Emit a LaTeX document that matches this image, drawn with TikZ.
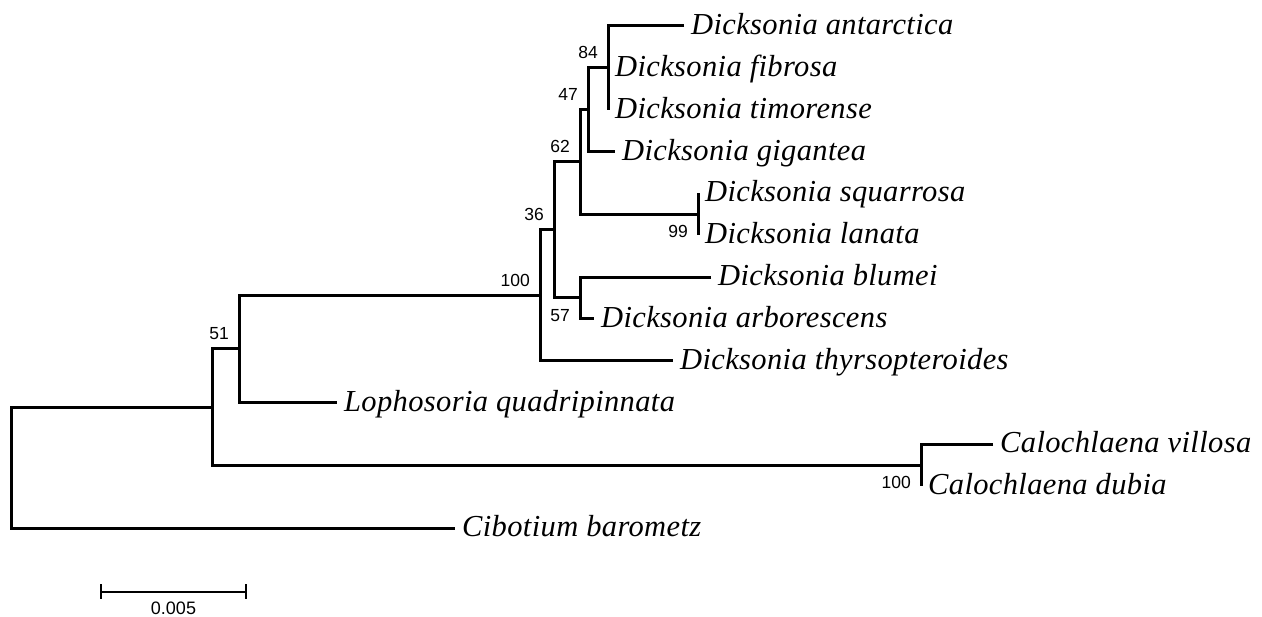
\documentclass[tikz,border=0pt]{standalone}
\usepackage{fontspec}
\usetikzlibrary{calc}
\setmainfont{Liberation Serif}
\newfontfamily\taxfont[LetterSpace=1.2]{Liberation Serif}
\newfontfamily\bootfont{Liberation Sans}
\begin{document}
\begin{tikzpicture}[x=1pt,y=-1pt,
  branch/.style={line width=3pt,line join=miter,line cap=butt},
  taxon/.style={anchor=base west,inner sep=0pt,xshift=7pt,yshift=-8.5pt,
    font=\taxfont\itshape\fontsize{30.5}{32}\selectfont},
  bsabove/.style={anchor=base east,inner sep=0pt,xshift=-10pt,yshift=9pt,
    font=\bootfont\fontsize{17.5}{20}\selectfont},
  bsbelow/.style={anchor=north east,inner sep=0pt,xshift=-10pt,yshift=-11pt,
    font=\bootfont\fontsize{17.5}{20}\selectfont}]
\useasboundingbox (0,0) rectangle (1262,617);

% internal nodes (x = depth, y = join height)
\coordinate (n84)  at (608,67.85);
\coordinate (n47)  at (588,109.7);
\coordinate (n99)  at (698,214.3);
\coordinate (n62)  at (580,162);
\coordinate (n57)  at (580,298);
\coordinate (n36)  at (554,230);
\coordinate (n100) at (540,295.4);
\coordinate (n51)  at (239,349);
\coordinate (nA)   at (212,407.2);
\coordinate (nCal) at (921,465.4);
\coordinate (root) at (11,467.7);

% leaf tips
\coordinate (tAnt) at (684,26);
\coordinate (tFib) at (608,67.85);
\coordinate (tTim) at (608,109.7);
\coordinate (tGig) at (615,151.55);
\coordinate (tSqu) at (698,193.4);
\coordinate (tLan) at (698,235.25);
\coordinate (tBlu) at (711,277.1);
\coordinate (tArb) at (594,318.95);
\coordinate (tThy) at (673,360.8);
\coordinate (tLop) at (337,402.65);
\coordinate (tVil) at (993,444.5);
\coordinate (tDub) at (921,486.35);
\coordinate (tCib) at (455,528.2);

% branches
\draw[branch] (tAnt) -| (n84) |- (tTim);
\draw[branch] (n84) -- (tFib);
\draw[branch] (n84) -| (n47) |- (tGig);
\draw[branch] (tSqu) -- (tLan);
\draw[branch] (n47) -| (n62) |- (n99);
\draw[branch] (tBlu) -| (n57) |- (tArb);
\draw[branch] (n62) -| (n36) |- (n57);
\draw[branch] (n36) -| (n100) |- (tThy);
\draw[branch] (n100) -| (n51) |- (tLop);
\draw[branch] (n51) -| (nA) |- (nCal);
\draw[branch] (tVil) -| (nCal) -- (tDub);
\draw[branch] (nA) -| (root) |- (tCib);

% taxon names
\node[taxon] (lAnt) at (tAnt) {Dicksonia antarctica};
\node[taxon] (lFib) at (tFib) {Dicksonia fibrosa};
\node[taxon] (lTim) at (tTim) {Dicksonia timorense};
\node[taxon] (lGig) at (tGig) {Dicksonia gigantea};
\node[taxon] (lSqu) at (tSqu) {Dicksonia squarrosa};
\node[taxon] (lLan) at (tLan) {Dicksonia lanata};
\node[taxon] (lBlu) at (tBlu) {Dicksonia blumei};
\node[taxon] (lArb) at (tArb) {Dicksonia arborescens};
\node[taxon] (lThy) at (tThy) {Dicksonia thyrsopteroides};
\node[taxon] (lLop) at (tLop) {Lophosoria quadripinnata};
\node[taxon] (lVil) at (tVil) {Calochlaena villosa};
\node[taxon] (lDub) at (tDub) {Calochlaena dubia};
\node[taxon] (lCib) at (tCib) {Cibotium barometz};

% bootstrap support
\node[bsabove] (b84)  at (n84)  {84};
\node[bsabove] (b47)  at (n47)  {47};
\node[bsabove] (b62)  at (n62)  {62};
\node[bsabove] (b36)  at (n36)  {36};
\node[bsabove] (b100) at (n100) {100};
\node[bsabove] (b51)  at (n51)  {51};
\node[bsbelow] (b57)  at (n57)  {57};
\node[bsbelow] (b99)  at (n99)  {99};
\node[bsbelow] (bCal) at (nCal) {100};

% scale bar
\coordinate (sL) at (101,592);
\coordinate (sR) at (246,592);
\draw[line width=2pt] (sL) -- (sR);
\draw[line width=2pt] ([yshift=8pt]sL) -- ([yshift=-7pt]sL);
\draw[line width=2pt] ([yshift=8pt]sR) -- ([yshift=-7pt]sR);
\node[anchor=north,inner sep=0pt,font=\bootfont\fontsize{18}{20}\selectfont] (scl)
  at ([yshift=-10pt]$(sL)!0.5!(sR)$) {0.005};
\end{tikzpicture}
\end{document}
